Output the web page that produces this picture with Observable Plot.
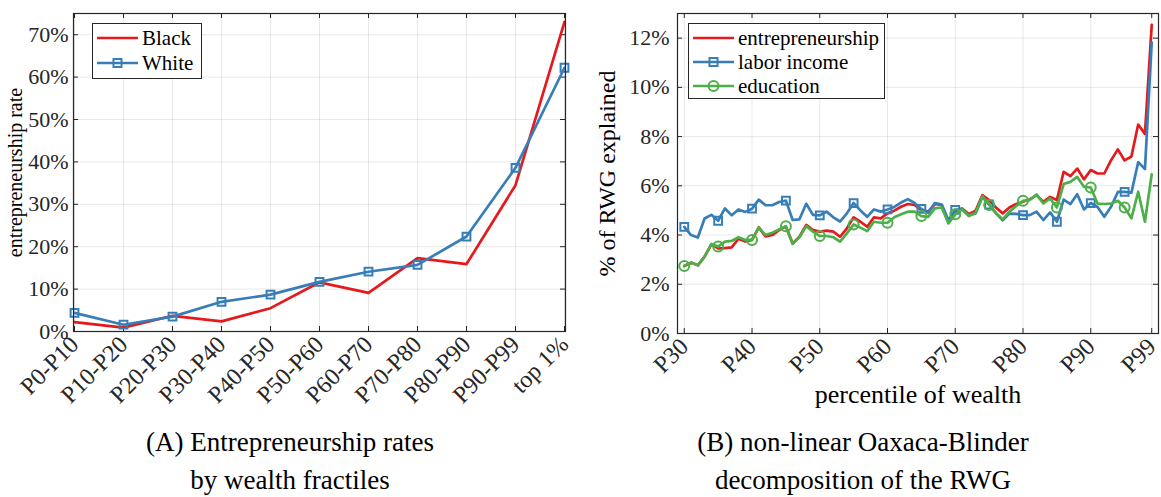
<!DOCTYPE html>
<html><head><meta charset="utf-8">
<script src="https://cdn.jsdelivr.net/npm/d3@7"></script>
<script src="https://cdn.jsdelivr.net/npm/@observablehq/plot@0.6"></script>
<style>
body{margin:0;background:#fff;}
#wrap{position:relative;width:1161px;height:497px;overflow:hidden;color:#262626;background:#fff}
#wrap, #wrap div, #wrap span, #wrap svg, #wrap svg text{font-family:"Liberation Serif", "Times New Roman", serif !important}
#wrap g[aria-label^="x-axis"] text{font-size:24px}
.panel{position:absolute;top:0}
.legend{position:absolute;background:#fff;border:1px solid #262626;box-sizing:border-box}
.row{position:absolute;left:0;height:24px;display:flex;align-items:center;white-space:nowrap}
.row span{color:#000}
.cap{position:absolute;text-align:center;font-size:27px;line-height:38px;color:#000;transform:translateX(-50%);white-space:nowrap;top:423px}
</style></head>
<body><div id="wrap"></div>
<script>
// ---------- Panel A data ----------
const fractiles = ["P0-P10","P10-P20","P20-P30","P30-P40","P40-P50","P50-P60","P60-P70","P70-P80","P80-P90","P90-P99","top 1%"];
const blackRate = [2.2, 0.9, 3.7, 2.4, 5.5, 11.6, 9.1, 17.3, 15.9, 34.5, 73.0];
const whiteRate = [4.4, 1.6, 3.5, 7.0, 8.7, 11.7, 14.1, 15.7, 22.4, 38.6, 62.2];
const yTicksA = [0, 10, 20, 30, 40, 50, 60, 70];
const seriesA = ["Black", "White"];

// ---------- Panel B data ----------
const percentiles = d3.range(30, 100);
const entrepreneurship = [
  2.74, 2.88, 2.77, 3.12, 3.62, 3.46, 3.47, 3.50, 3.85, 3.74,
  3.80, 4.31, 3.94, 4.00, 4.20, 4.35, 3.66, 3.93, 4.41, 4.20,
  4.14, 4.18, 4.14, 3.93, 4.27, 4.72, 4.54, 4.34, 4.72, 4.68,
  4.88, 4.99, 5.15, 5.26, 5.22, 5.01, 4.95, 5.26, 5.22, 4.54,
  4.97, 5.08, 4.85, 4.99, 5.62, 5.42, 5.12, 4.88, 5.12, 5.26,
  5.35, 5.45, 5.62, 5.35, 5.55, 5.42, 6.57, 6.39, 6.70, 6.26,
  6.64, 6.50, 6.50, 7.04, 7.48, 7.03, 7.19, 8.49, 8.11, 12.54];
const laborIncome = [
  4.33, 4.00, 3.90, 4.67, 4.82, 4.58, 5.08, 4.80, 5.04, 4.94,
  5.07, 5.44, 5.21, 5.21, 5.34, 5.40, 4.61, 4.64, 5.27, 4.82,
  4.80, 4.95, 4.72, 4.55, 4.88, 5.30, 5.00, 4.74, 5.04, 4.95,
  5.04, 5.14, 5.32, 5.46, 5.30, 5.06, 4.90, 5.30, 5.24, 4.60,
  5.02, 5.05, 4.80, 4.88, 5.55, 5.24, 4.90, 4.60, 4.87, 4.86,
  4.81, 4.81, 4.95, 4.61, 4.92, 4.54, 5.44, 5.26, 5.66, 5.04,
  5.30, 5.14, 4.74, 5.15, 5.75, 5.75, 5.72, 6.96, 6.68, 11.82];
const education = [
  2.74, 2.88, 2.77, 3.12, 3.64, 3.53, 3.73, 3.76, 3.91, 3.80,
  3.80, 4.30, 4.00, 4.09, 4.23, 4.36, 3.64, 3.91, 4.36, 4.14,
  3.96, 3.96, 3.91, 3.73, 4.07, 4.43, 4.30, 4.16, 4.54, 4.50,
  4.50, 4.72, 4.84, 4.95, 4.95, 4.77, 4.74, 5.08, 5.12, 4.47,
  4.84, 5.04, 4.77, 4.90, 5.58, 5.22, 4.88, 4.64, 4.95, 5.18,
  5.39, 5.42, 5.65, 5.28, 5.49, 5.12, 6.07, 6.16, 6.36, 5.96,
  5.93, 5.28, 5.26, 5.28, 5.39, 5.12, 4.68, 5.76, 4.54, 6.47];
const xTicksB = [30, 40, 50, 60, 70, 80, 90, 99];
const yTicksB = [0, 2, 4, 6, 8, 10, 12];
const seriesB = ["entrepreneurship", "labor income", "education"];

const RED = "#e41a1c", BLUE = "#377eb8", GREEN = "#4daf4a", AX = "#262626";
const FONT = "Liberation Serif, Times New Roman, serif";
const wrap = document.getElementById("wrap");

// ---------- Panel A ----------
{
  const W = 580, H = 420, mL = 73, mR = 15, mT = 13, mB = 89;
  const iw = W - mL - mR, ih = H - mT - mB, tk = 5;
  const table = fractiles.map((f, i) => ({f, black: blackRate[i], white: whiteRate[i]}));
  const svg = Plot.plot({
    width: W, height: H, marginLeft: mL, marginRight: mR, marginTop: mT, marginBottom: mB,
    style: {fontFamily: FONT, fontSize: "22px", color: AX, background: "transparent", overflow: "visible"},
    x: {type: "point", domain: fractiles, padding: 0, label: null, tickRotate: -45, tickSize: 0, tickPadding: 9, grid: true},
    y: {domain: [0, 75], ticks: yTicksA, tickFormat: d => d + "%", label: null, tickSize: 0, tickPadding: 5, grid: true},
    marks: [
      Plot.ruleX(fractiles, {x: d => d, insetTop: ih - tk, stroke: AX}),
      Plot.ruleX(fractiles, {x: d => d, insetBottom: ih - tk, stroke: AX}),
      Plot.ruleY(yTicksA, {y: d => d, insetRight: iw - tk, stroke: AX}),
      Plot.ruleY(yTicksA, {y: d => d, insetLeft: iw - tk, stroke: AX}),
      Plot.line(table, {x: "f", y: "black", stroke: RED, strokeWidth: 2.7}),
      Plot.line(table, {x: "f", y: "white", stroke: BLUE, strokeWidth: 2.7}),
      Plot.dot(table, {x: "f", y: "white", symbol: "square", r: 4.4, stroke: BLUE, strokeWidth: 2, fill: "none"}),
      Plot.text(["entrepreneurship rate"], {text: d => d, frameAnchor: "left", textAnchor: "middle", dx: -58, rotate: -90, fontSize: 20, fill: "#000"}),
      Plot.frame({stroke: AX, strokeWidth: 1.2})
    ]
  });
  svg.classList.add("panel");
  svg.style.left = "0px";
  wrap.appendChild(svg);
}

// ---------- Panel B ----------
{
  const W = 581, H = 420, mL = 97, mR = 3, mT = 13, mB = 87;
  const iw = W - mL - mR, ih = H - mT - mB, tk = 5;
  const table = percentiles.map((p, i) => ({p, ent: entrepreneurship[i], lab: laborIncome[i], edu: education[i]}));
  const marked = table.filter(d => (d.p - 30) % 5 === 0 && d.p < 99);
  const svg = Plot.plot({
    width: W, height: H, marginLeft: mL, marginRight: mR, marginTop: mT, marginBottom: mB,
    style: {fontFamily: FONT, fontSize: "22px", color: AX, background: "transparent", overflow: "visible"},
    x: {domain: [29, 100], ticks: xTicksB, tickFormat: d => "P" + d, label: null, tickRotate: -45, tickSize: 0, tickPadding: 9, grid: true},
    y: {domain: [0, 13], ticks: yTicksB, tickFormat: d => d + "%", label: null, tickSize: 0, tickPadding: 8, grid: true},
    marks: [
      Plot.ruleX(xTicksB, {x: d => d, insetTop: ih - tk, stroke: AX}),
      Plot.ruleX(xTicksB, {x: d => d, insetBottom: ih - tk, stroke: AX}),
      Plot.ruleY(yTicksB, {y: d => d, insetRight: iw - tk, stroke: AX}),
      Plot.ruleY(yTicksB, {y: d => d, insetLeft: iw - tk, stroke: AX}),
      Plot.line(table, {x: "p", y: "ent", stroke: RED, strokeWidth: 2.7}),
      Plot.line(table, {x: "p", y: "lab", stroke: BLUE, strokeWidth: 2.7}),
      Plot.dot(marked, {x: "p", y: "lab", symbol: "square", r: 4.4, stroke: BLUE, strokeWidth: 2, fill: "none"}),
      Plot.line(table, {x: "p", y: "edu", stroke: GREEN, strokeWidth: 2.7}),
      Plot.dot(marked, {x: "p", y: "edu", symbol: "circle", r: 5, stroke: GREEN, strokeWidth: 2, fill: "none"}),
      Plot.text(["% of RWG explained"], {text: d => d, frameAnchor: "left", textAnchor: "middle", dx: -70, rotate: -90, fontSize: 24, fill: "#000"}),
      Plot.text(["percentile of wealth"], {text: d => d, frameAnchor: "bottom", textAnchor: "middle", dy: 69, fontSize: 26, fill: "#000"}),
      Plot.frame({stroke: AX, strokeWidth: 1.2})
    ]
  });
  svg.classList.add("panel");
  svg.style.left = "580px";
  wrap.appendChild(svg);
}

// ---------- Legends ----------
function legend(left, top, width, height, items, fontSize) {
  const box = document.createElement("div");
  box.className = "legend";
  Object.assign(box.style, {left: left + "px", top: top + "px", width: width + "px", height: height + "px"});
  items.forEach((it, i) => {
    const row = document.createElement("div");
    row.className = "row";
    row.style.top = (it.cy - 12) + "px";
    row.style.fontSize = fontSize + "px";
    const ns = "http://www.w3.org/2000/svg";
    const s = document.createElementNS(ns, "svg");
    s.setAttribute("width", 48); s.setAttribute("height", 24);
    s.style.display = "block";
    const ln = document.createElementNS(ns, "line");
    ln.setAttribute("x1", 4); ln.setAttribute("x2", 45); ln.setAttribute("y1", 12); ln.setAttribute("y2", 12);
    ln.setAttribute("stroke", it.color); ln.setAttribute("stroke-width", 2.7);
    s.appendChild(ln);
    if (it.symbol === "square") {
      const r = document.createElementNS(ns, "rect");
      r.setAttribute("x", 24.5 - 4); r.setAttribute("y", 12 - 4); r.setAttribute("width", 8); r.setAttribute("height", 8);
      r.setAttribute("fill", "none"); r.setAttribute("stroke", it.color); r.setAttribute("stroke-width", 2);
      s.appendChild(r);
    } else if (it.symbol === "circle") {
      const c = document.createElementNS(ns, "circle");
      c.setAttribute("cx", 24.5); c.setAttribute("cy", 12); c.setAttribute("r", 5);
      c.setAttribute("fill", "none"); c.setAttribute("stroke", it.color); c.setAttribute("stroke-width", 2);
      s.appendChild(c);
    }
    row.appendChild(s);
    const t = document.createElement("span");
    t.textContent = it.label;
    t.style.marginLeft = "1px";
    row.appendChild(t);
    box.appendChild(row);
  });
  wrap.appendChild(box);
}
legend(92, 23, 110, 56, [
  {label: seriesA[0], color: RED, cy: 14},
  {label: seriesA[1], color: BLUE, symbol: "square", cy: 39}
], 21);
legend(688, 23, 197, 76, [
  {label: seriesB[0], color: RED, cy: 14},
  {label: seriesB[1], color: BLUE, symbol: "square", cy: 38},
  {label: seriesB[2], color: GREEN, symbol: "circle", cy: 62}
], 21);

// ---------- Captions ----------
function caption(cx, lines) {
  const d = document.createElement("div");
  d.className = "cap";
  d.style.left = cx + "px";
  d.innerHTML = lines.map(l => l.replace(/&/g, "&amp;")).join("<br>");
  wrap.appendChild(d);
}
caption(290, ["(A) Entrepreneurship rates", "by wealth fractiles"]);
caption(863, ["(B) non-linear Oaxaca-Blinder", "decomposition of the RWG"]);
</script>
</body></html>
